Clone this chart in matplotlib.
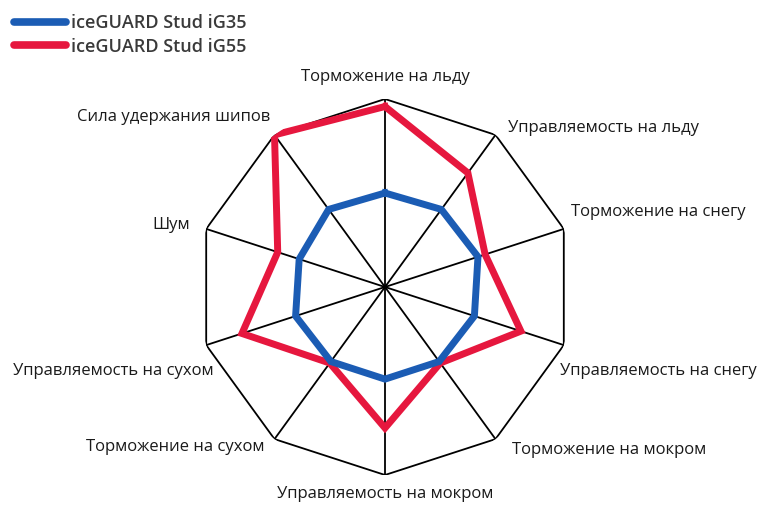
import matplotlib.pyplot as plt
import numpy as np

plt.rcParams['font.family'] = ['Open Sans', 'DejaVu Sans']

# axes clockwise from the top
categories = ['Торможение на льду', 'Управляемость на льду', 'Торможение на снегу',
              'Управляемость на снегу', 'Торможение на мокром', 'Управляемость на мокром',
              'Торможение на сухом', 'Управляемость на сухом', 'Шум', 'Сила удержания шипов']
ig35 = [5.0, 5.1, 5.2, 5.0, 4.9, 4.9, 4.9, 5.0, 4.8, 5.1]
ig55 = [9.6, 7.5, 5.6, 7.6, 5.0, 7.5, 5.0, 8.0, 6.0, 10.0]
series_names = ['iceGUARD Stud iG35', 'iceGUARD Stud iG55']
rmax = 10

# label offsets (points) from the outer vertex, with alignment
label_pos = [(0, 16, 'center'), (9, 5, 'left'), (5, 12, 'left'), (-3, -19, 'left'),
             (12, -8, 'left'), (0, -14, 'center'), (-7, -6, 'right'), (5, -19, 'right'),
             (-12, 3, 'right'), (-3, 13, 'right')]

n = len(categories)
theta = np.linspace(0, 2 * np.pi, n, endpoint=False)
theta_c = np.append(theta, theta[0])

fig = plt.figure(figsize=(7.68, 5.12), dpi=100)
R = 188
cx, cy = 385, 287
ax = fig.add_axes([(cx - R) / 768, (512 - cy - R) / 512, 2 * R / 768, 2 * R / 512], projection='polar')
ax.set_theta_zero_location('N')
ax.set_theta_direction(-1)
ax.set_ylim(0, rmax)
ax.axis('off')

# grid: outer decagon and spokes
ax.plot(theta_c, [rmax] * (n + 1), color='black', lw=1.3, zorder=1)
for t in theta:
    ax.plot([t, t], [0, rmax], color='black', lw=1.3, zorder=1)

blue = '#1b5cb4'
red = '#e6173e'
ax.plot(theta_c, ig35 + ig35[:1], color=blue, lw=5, solid_joinstyle='miter', zorder=3)
ax.plot(theta_c, ig55 + ig55[:1], color=red, lw=5, solid_joinstyle='miter', zorder=2)

for t, lab, (dx, dy, ha) in zip(theta, categories, label_pos):
    ax.annotate(lab, xy=(t, rmax), xytext=(dx, dy), textcoords='offset points',
                ha=ha, va='center', fontsize=12, color='#1a1a1a', annotation_clip=False)

h1, = plt.plot([], [], color=blue, lw=5.5, solid_capstyle='round')
h2, = plt.plot([], [], color=red, lw=5.5, solid_capstyle='round')
fig.legend([h1, h2], series_names, loc='upper left', bbox_to_anchor=(-0.003, 1.004),
           frameon=False, handlelength=2.9, handletextpad=0.25,
           labelspacing=0.3, labelcolor='#3a3a3a', prop={'weight': 'semibold', 'size': 13})

fig.savefig('out.png', dpi=100)
